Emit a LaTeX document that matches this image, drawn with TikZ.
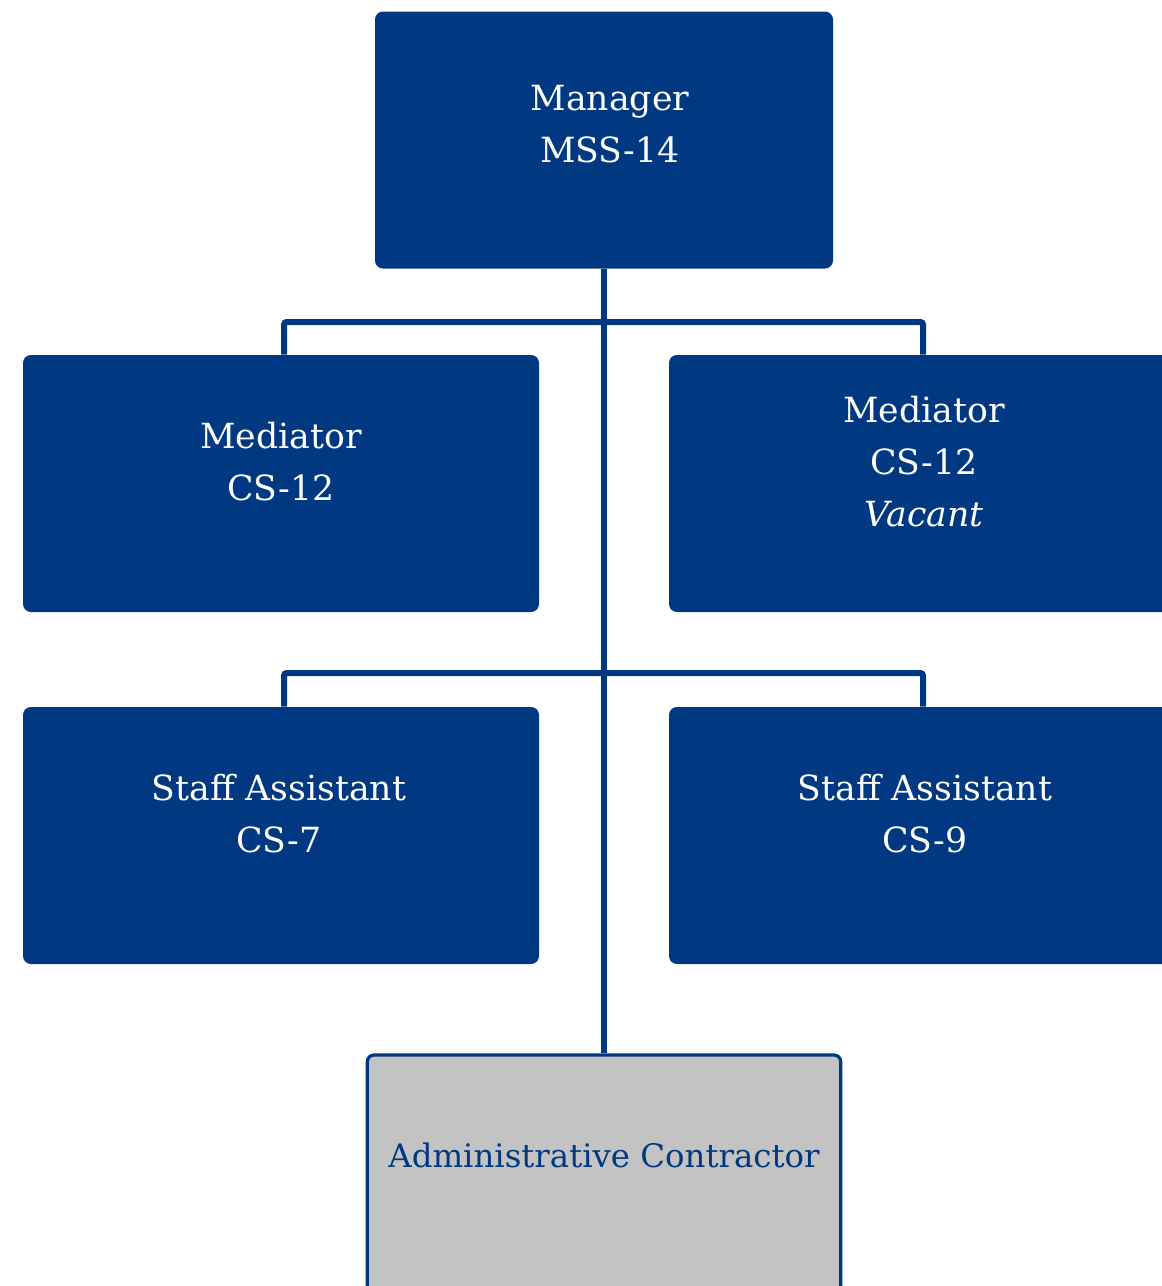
\documentclass[tikz,border=0pt]{standalone}
\usepackage{fontspec}
\setmainfont{DejaVu Serif}
\usetikzlibrary{calc}
\definecolor{navy}{RGB}{0,57,130}
\definecolor{boxgray}{RGB}{195,195,195}
\begin{document}
\begin{tikzpicture}[x=0.75pt,y=-0.75pt,
  bluebox/.style={draw=none,fill=navy,rounded corners=6pt,minimum width=387pt,minimum height=192.75pt,inner sep=0pt},
  mgrbox/.style={bluebox,minimum width=343.5pt},
  graybox/.style={draw=navy,line width=2.4pt,fill=boxgray,rounded corners=5pt,minimum width=355pt,minimum height=195pt,inner sep=0pt},
  lbl/.style={text=white,font=\fontsize{26}{39}\selectfont,align=center,inner sep=0pt},
  glbl/.style={lbl,text=navy,font=\fontsize{24.3}{39}\selectfont},
  conn/.style={draw=navy,line width=4.5pt,rounded corners=2pt}]
\useasboundingbox (0,0) rectangle (1161,1286);
\node[mgrbox] (mgr) at (604,140) {};
\node[bluebox] (med1) at (281,483.5) {};
\node[bluebox] (med2) at (927,483.5) {};
\node[bluebox] (sa1) at (281,835.5) {};
\node[bluebox] (sa2) at (927,835.5) {};
\node[graybox] (adm) at (604,1185) {};
\node[lbl] (tmgr) at (610,124) {Manager\\MSS-14};
\node[lbl] (tmed1) at (281,462) {Mediator\\CS-12};
\node[lbl] (tmed2) at (924,462) {Mediator\\CS-12\\\itshape Vacant};
\node[lbl] (tsa1) at (279,814) {Staff Assistant\\CS-7};
\node[lbl] (tsa2) at (925,814) {Staff Assistant\\CS-9};
\node[glbl] (tadm) at (604,1155) {Administrative Contractor};
\coordinate (j1) at (604,322);
\coordinate (j2) at (604,673);
\coordinate (lx) at (284,0);
\coordinate (rx) at (923,0);
\draw[conn,rounded corners=0pt] (mgr.south) -- (adm.north);
\draw[conn] (med1.north -| lx) |- (j1) -| (med2.north -| rx);
\draw[conn] (sa1.north -| lx) |- (j2) -| (sa2.north -| rx);
\end{tikzpicture}
\end{document}
